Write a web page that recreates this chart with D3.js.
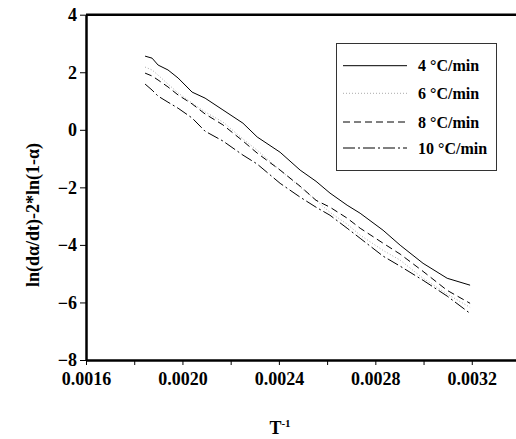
<!DOCTYPE html>
<html>
<head>
<meta charset="utf-8">
<script src="https://cdn.jsdelivr.net/npm/d3@7"></script>
<style>
  body { margin: 0; background: #fff; }
  svg { display: block; }
  text { font-family: "Liberation Serif", "Times New Roman", serif; font-weight: bold; fill: #000; }
</style>
</head>
<body>
<div class="container"></div>
<script>
// inverse temperature values (same for all heating rates)
const invT = [0.001845, 0.001874, 0.001899, 0.001940, 0.001982, 0.002040, 0.002094, 0.002168,
  0.002251, 0.002310, 0.002405, 0.002488, 0.002554, 0.002612, 0.002683, 0.002737,
  0.002832, 0.002903, 0.002998, 0.003098, 0.003193];

const rate4 = [2.56, 2.49, 2.25, 2.08, 1.80, 1.31, 1.10, 0.69, 0.23, -0.25, -0.78, -1.40,
  -1.79, -2.20, -2.62, -2.90, -3.49, -4.01, -4.64, -5.16, -5.40];
const rate6 = [2.18, 2.08, 1.90, 1.59, 1.28, 0.93, 0.62, 0.27, -0.32, -0.71, -1.40, -1.99,
  -2.45, -2.87, -3.28, -3.66, -4.19, -4.53, -5.16, -5.71, -6.17];
const rate8 = [1.97, 1.87, 1.73, 1.49, 1.21, 0.90, 0.55, 0.17, -0.39, -0.81, -1.40, -1.96,
  -2.45, -2.69, -3.07, -3.42, -3.94, -4.32, -4.92, -5.58, -6.03];
const rate10 = [1.59, 1.38, 1.17, 0.96, 0.75, 0.41, -0.05, -0.39, -0.88, -1.19, -1.86, -2.34,
  -2.69, -2.97, -3.42, -3.77, -4.39, -4.74, -5.23, -5.78, -6.38];

const seriesNames = ["4 °C/min", "6 °C/min", "8 °C/min", "10 °C/min"];
const xTicks = [0.0016, 0.0018, 0.0020, 0.0022, 0.0024, 0.0026, 0.0028, 0.0030, 0.0032];
const xLabels = [0.0016, 0.0020, 0.0024, 0.0028, 0.0032];
const yTicks = [4, 2, 0, -2, -4, -6, -8];

const width = 516;
const height = 439;

const svg = d3.select("div.container")
    .append("svg")
    .attr("width", width)
    .attr("height", height);

const x = d3.scaleLinear().domain([0.0016, 0.0034]).range([86, 520]);
const y = d3.scaleLinear().domain([-8, 4]).range([360, 14.7]);

const styles = [
    {stroke: "#000", dash: null, w: 1},
    {stroke: "#aaa", dash: "1,2", w: 1},
    {stroke: "#000", dash: "7,4", w: 1},
    {stroke: "#000", dash: "12,3,2,3", w: 1}
];

const series = [rate4, rate6, rate8, rate10];

const line = d3.line()
    .x(function(d, i) { return x(invT[i]); })
    .y(function(d) { return y(d); });

series.forEach(function(s, k) {
    svg.append("path")
        .attr("d", line(s))
        .attr("fill", "none")
        .attr("stroke", styles[k].stroke)
        .attr("stroke-width", styles[k].w)
        .attr("stroke-dasharray", styles[k].dash);
});

// x axis
const xAxis = svg.append("g").attr("transform", "translate(0,360)")
    .call(d3.axisBottom(x).tickValues(xTicks).tickSize(5).tickSizeOuter(0)
        .tickFormat(function(d) { return xLabels.some(v => Math.abs(v - d) < 1e-9) ? d3.format(".4f")(d) : ""; }));
xAxis.select(".domain").attr("stroke-width", 2.5);
xAxis.selectAll(".tick line").attr("stroke-width", 1);
xAxis.selectAll("text").attr("font-size", 18).attr("dy", "0.95em")
    .attr("font-family", "Liberation Serif").attr("font-weight", "bold");

// y axis
const yAxis = svg.append("g").attr("transform", "translate(86,0)")
    .call(d3.axisLeft(y).tickValues(yTicks).tickSize(6).tickSizeOuter(0));
yAxis.select(".domain").attr("stroke-width", 2.5);
yAxis.selectAll("text").attr("font-size", 18).attr("x", -9)
    .attr("font-family", "Liberation Serif").attr("font-weight", "bold");

// top frame line
svg.append("line")
    .attr("x1", 86).attr("x2", width)
    .attr("y1", y(4)).attr("y2", y(4))
    .attr("stroke", "#000").attr("stroke-width", 2.5);

// axis titles
svg.append("text")
    .attr("transform", "translate(39,215) rotate(-90)")
    .attr("text-anchor", "middle")
    .attr("font-size", 18)
    .text("ln(dα/dt)-2*ln(1-α)");

const xt = svg.append("text")
    .attr("x", 280).attr("y", 434)
    .attr("text-anchor", "middle")
    .attr("font-size", 18);
xt.append("tspan").text("T");
xt.append("tspan").attr("font-size", 11).attr("dy", -7).text("-1");

// legend
const legend = svg.append("g");
legend.append("rect")
    .attr("x", 336.5).attr("y", 43.5).attr("width", 160).attr("height", 127)
    .attr("fill", "#fff").attr("stroke", "#333").attr("stroke-width", 1);

const rowY = [65.7, 93.3, 122, 148];
seriesNames.forEach(function(name, k) {
    legend.append("line")
        .attr("x1", 343).attr("x2", 407)
        .attr("y1", rowY[k]).attr("y2", rowY[k])
        .attr("stroke", styles[k].stroke)
        .attr("stroke-width", styles[k].w)
        .attr("stroke-dasharray", styles[k].dash);
    legend.append("text")
        .attr("x", 418).attr("y", rowY[k] + 5.5)
        .attr("font-size", 16)
        .text(name);
});
</script>
</body>
</html>
